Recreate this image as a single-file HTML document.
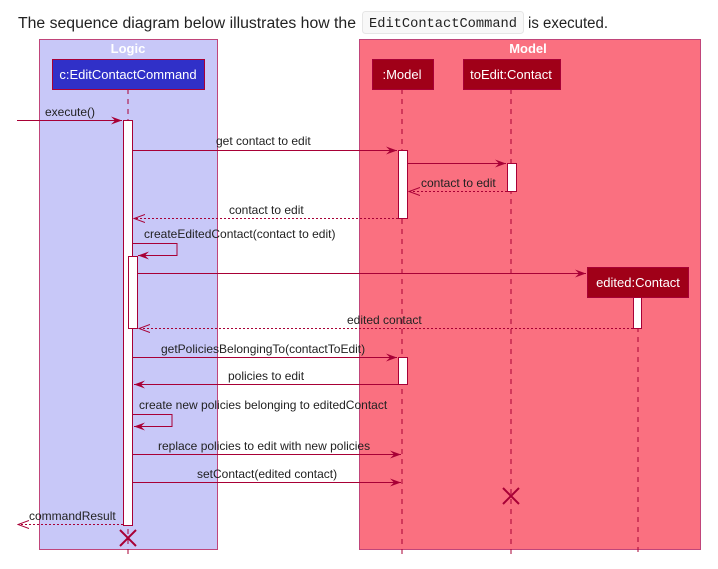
<!DOCTYPE html>
<html><head><meta charset="utf-8"><style>
html,body{margin:0;padding:0;background:#fff;width:718px;height:569px;overflow:hidden}
svg{display:block}
</style></head><body>
<svg width="718" height="569" xmlns="http://www.w3.org/2000/svg" font-family="Liberation Sans, sans-serif">
<defs>
<marker id="a" markerWidth="12" markerHeight="10" refX="11" refY="5" orient="auto" markerUnits="userSpaceOnUse">
<path d="M0,1 L11,5 L0,9 L4,5 Z" fill="#A80036"/></marker>
<marker id="o" markerWidth="12" markerHeight="10" refX="11" refY="5" orient="auto" markerUnits="userSpaceOnUse">
<path d="M0,1 L11,5 L0,9" fill="none" stroke="#A80036" stroke-width="1"/></marker>
</defs>
<text x="18" y="28" font-size="15.5" fill="#222" textLength="338" lengthAdjust="spacingAndGlyphs">The sequence diagram below illustrates how the</text>
<rect x="362.5" y="11.5" width="161" height="22" rx="3" fill="#f8f8f8" stroke="#e6e6e6"/>
<text x="369" y="27" font-family="Liberation Mono, monospace" font-size="13.5" fill="#222" textLength="148" lengthAdjust="spacingAndGlyphs">EditContactCommand</text>
<text x="528" y="28" font-size="15.5" fill="#222" textLength="80" lengthAdjust="spacingAndGlyphs">is executed.</text>

<rect x="39.5" y="39.5" width="178" height="510" fill="#C8C8F8" stroke="#C0457A"/>
<text x="128" y="53" text-anchor="middle" font-weight="bold" font-size="13" fill="#fff">Logic</text>
<rect x="359.5" y="39.5" width="341" height="510" fill="#FA7080" stroke="#C0457A"/>
<text x="528" y="53" text-anchor="middle" font-weight="bold" font-size="13" fill="#fff">Model</text>

<g stroke="#A80036" stroke-dasharray="5,5" stroke-width="1">
<line x1="128" y1="89" x2="128" y2="555"/>
<line x1="402" y1="89" x2="402" y2="555"/>
<line x1="511" y1="89" x2="511" y2="555"/>
<line x1="638" y1="297" x2="638" y2="555"/>
</g>

<rect x="52.5" y="59.5" width="152" height="30" fill="#3030C8" stroke="#A80036"/>
<text x="128" y="79" text-anchor="middle" font-size="13" fill="#fff">c:EditContactCommand</text>
<rect x="372.5" y="59.5" width="61" height="30" fill="#A00018" stroke="#A80036"/>
<text x="402" y="79" text-anchor="middle" font-size="13" fill="#fff">:Model</text>
<rect x="463.5" y="59.5" width="97" height="30" fill="#A00018" stroke="#A80036"/>
<text x="511" y="79" text-anchor="middle" font-size="13" fill="#fff">toEdit:Contact</text>
<rect x="587.5" y="267.5" width="101" height="30" fill="#A00018" stroke="#A80036"/>
<text x="638" y="287" text-anchor="middle" font-size="13" fill="#fff">edited:Contact</text>

<g fill="#fff" stroke="#A80036">
<rect x="123.5" y="120.5" width="9" height="405"/>
<rect x="128.5" y="256.5" width="9" height="72"/>
<rect x="398.5" y="150.5" width="9" height="68"/>
<rect x="507.5" y="163.5" width="9" height="28"/>
<rect x="633.5" y="297.5" width="8" height="31"/>
<rect x="398.5" y="357.5" width="9" height="27"/>
</g>

<g stroke="#A80036" stroke-width="1" fill="none">
<line x1="17" y1="120.5" x2="122" y2="120.5" marker-end="url(#a)"/>
<line x1="133" y1="150.5" x2="397" y2="150.5" marker-end="url(#a)"/>
<line x1="408" y1="163.5" x2="506" y2="163.5" marker-end="url(#a)"/>
<line x1="507" y1="191.5" x2="409" y2="191.5" stroke-dasharray="2,2" marker-end="url(#o)"/>
<line x1="398" y1="218.5" x2="134" y2="218.5" stroke-dasharray="2,2" marker-end="url(#o)"/>
<polyline points="133,243.5 177,243.5 177,255.5 138,255.5" marker-end="url(#a)"/>
<line x1="138" y1="273.5" x2="586" y2="273.5" marker-end="url(#a)"/>
<line x1="633" y1="328.5" x2="139" y2="328.5" stroke-dasharray="2,2" marker-end="url(#o)"/>
<line x1="133" y1="357.5" x2="397" y2="357.5" marker-end="url(#a)"/>
<line x1="398" y1="384.5" x2="134" y2="384.5" marker-end="url(#a)"/>
<polyline points="133,414.5 172,414.5 172,426.5 134,426.5" marker-end="url(#a)"/>
<line x1="133" y1="454.5" x2="401" y2="454.5" marker-end="url(#a)"/>
<line x1="133" y1="482.5" x2="401" y2="482.5" marker-end="url(#a)"/>
<line x1="123" y1="524.5" x2="18" y2="524.5" stroke-dasharray="2,2" marker-end="url(#o)"/>
</g>
<g stroke="#A80036" stroke-width="2">
<line x1="503" y1="488" x2="519" y2="504"/><line x1="519" y1="488" x2="503" y2="504"/>
<line x1="120" y1="530" x2="136" y2="546"/><line x1="136" y1="530" x2="120" y2="546"/>
</g>
<g font-size="12" fill="#222">
<text x="45" y="116">execute()</text>
<text x="216" y="145">get contact to edit</text>
<text x="421" y="187">contact to edit</text>
<text x="229" y="214">contact to edit</text>
<text x="144" y="238">createEditedContact(contact to edit)</text>
<text x="347" y="324">edited contact</text>
<text x="161" y="353">getPoliciesBelongingTo(contactToEdit)</text>
<text x="228" y="380">policies to edit</text>
<text x="139" y="409">create new policies belonging to editedContact</text>
<text x="158" y="450">replace policies to edit with new policies</text>
<text x="197" y="478">setContact(edited contact)</text>
<text x="29" y="520">commandResult</text>
</g>
</svg>
</body></html>
